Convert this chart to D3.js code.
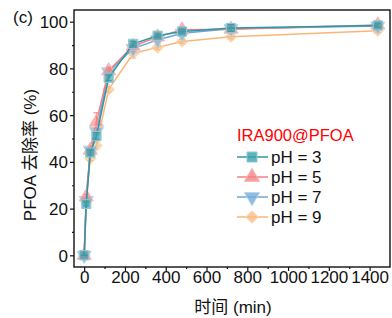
<!DOCTYPE html>
<meta charset="utf-8">
<style>
    body { margin: 0; background: #fff; }
    text { font-family: Arial, "Liberation Sans", sans-serif; fill: #111; }
    .cjk { font-family: "Noto Sans CJK SC", sans-serif; }
</style>
<svg width="392" height="318"></svg>
<script src="https://cdn.jsdelivr.net/npm/d3@7"></script>
<script>
    // sampling times (min)
    var times = [0, 10, 30, 60, 120, 240, 360, 480, 720, 1440];

    // removal (%) per pH
    var ph3 = [0, 22, 44, 51, 76, 90.5, 94, 95.8, 97.3, 98.4];
    var ph5 = [0, 25, 45, 57, 79, 89.5, 93.5, 96.5, 96.8, 98.6];
    var ph7 = [0, 23.5, 45, 53, 78.5, 88.5, 92.2, 95, 97, 98.1];
    var ph9 = [0, 23, 41.5, 47, 71, 86.4, 89, 91.5, 93.6, 96.1];

    // error bars
    var err3 = [0, 0.8, 1, 1.5, 1.2, 1, 0.8, 0.8, 1.5, 0.8];
    var err5 = [0, 1, 1.2, 4, 1.5, 1, 0.8, 0.8, 1, 0.8];
    var err7 = [0, 0.8, 1, 1.5, 1.2, 1, 0.8, 0.8, 2, 0.8];
    var err9 = [0, 0.8, 1, 1.5, 1.2, 2, 1, 0.8, 1, 0.8];

    var names = ["pH = 3", "pH = 5", "pH = 7", "pH = 9"];
    var xTicks = [0, 200, 400, 600, 800, 1000, 1200, 1400];
    var yTicks = [0, 20, 40, 60, 80, 100];

    var series = [
        {name: names[0], values: ph3, err: err3, color: "#2a98a8", fill: "#3aa0ae", stroke: "#8fcbd3", symbol: d3.symbolSquare},
        {name: names[1], values: ph5, err: err5, color: "#f47f7f", fill: "#f58585", stroke: "#f9b7b7", symbol: d3.symbolTriangle},
        {name: names[2], values: ph7, err: err7, color: "#6ba8d8", fill: "#72acd9", stroke: "#b3d3ec", symbol: "down"},
        {name: names[3], values: ph9, err: err9, color: "#f8b678", fill: "#f9bd85", stroke: "#fcd9b5", symbol: d3.symbolDiamond2}
    ];

    var svg = d3.select("svg");
    var pLeft = 74, pRight = 390, pTop = 10, pBottom = 267;

    var x = d3.scaleLinear().domain([-50, 1500]).range([pLeft, pRight]);
    var y = d3.scaleLinear().domain([-5, 105]).range([pBottom, pTop]);

    function symbolPath(sym, size) {
        if (sym === "down") {
            return d3.symbol(d3.symbolTriangle, size)();
        }
        return d3.symbol(sym, size)();
    }

    // axes
    var xAxis = svg.append("g")
            .attr("transform", "translate(0," + pBottom + ")")
            .call(d3.axisBottom(x).tickValues(xTicks).tickSize(4).tickSizeOuter(0).tickFormat(d3.format("d")));
    svg.append("g")
            .attr("transform", "translate(0," + pBottom + ")")
            .call(d3.axisBottom(x).tickValues(d3.range(100, 1500, 200)).tickSize(2).tickFormat(""));
    var yAxis = svg.append("g")
            .attr("transform", "translate(" + pLeft + ",0)")
            .call(d3.axisLeft(y).tickValues(yTicks).tickSize(4).tickSizeOuter(0));
    svg.append("g")
            .attr("transform", "translate(" + pLeft + ",0)")
            .call(d3.axisLeft(y).tickValues(d3.range(10, 101, 20)).tickSize(2).tickFormat(""));

    svg.selectAll(".domain").remove();
    svg.selectAll(".tick line").attr("stroke", "#111").attr("stroke-width", 1.2);
    xAxis.selectAll("text").style("font-size", "17px").attr("y", 3).attr("dy", "0.78em");
    yAxis.selectAll("text").style("font-size", "17px").attr("x", -6).attr("dy", "0.35em");

    // frame
    svg.append("rect")
            .attr("x", pLeft).attr("y", pTop)
            .attr("width", pRight - pLeft).attr("height", pBottom - pTop)
            .attr("fill", "none").attr("stroke", "#111").attr("stroke-width", 1.4);

    var line = d3.line()
            .x(function(d, i) { return x(times[i]); })
            .y(function(d) { return y(d); });

    // draw back to front: pH 9 at the bottom
    var order = [3, 2, 1, 0];
    order.forEach(function(k) {
        var s = series[k];
        var g = svg.append("g");
        g.append("path")
                .attr("d", line(s.values))
                .attr("fill", "none")
                .attr("stroke", s.color)
                .attr("stroke-width", 1.5);
        g.selectAll(".eb")
                .data(s.values)
                .enter().append("path")
                .attr("d", function(d, i) {
                    var cx = x(times[i]), y0 = y(d - s.err[i]), y1 = y(d + s.err[i]);
                    return "M" + (cx - 3) + "," + y0 + "H" + (cx + 3) + "M" + cx + "," + y0 + "V" + y1 + "M" + (cx - 3) + "," + y1 + "H" + (cx + 3);
                })
                .attr("stroke", s.color)
                .attr("stroke-width", 1);
        g.selectAll(".pt")
                .data(s.values)
                .enter().append("path")
                .attr("d", symbolPath(s.symbol, 85))
                .attr("transform", function(d, i) {
                    return "translate(" + x(times[i]) + "," + y(d) + ")" + (s.symbol === "down" ? " rotate(180)" : "");
                })
                .attr("fill", s.fill)
                .attr("fill-opacity", 0.65)
                .attr("stroke", s.stroke)
                .attr("stroke-width", 1);
    });

    // legend
    var lg = svg.append("g");
    lg.append("text")
            .attr("x", 237).attr("y", 141)
            .style("font-size", "16.5px")
            .style("fill", "#ff0000")
            .text("IRA900@PFOA");
    series.forEach(function(s, i) {
        var ry = 157 + i * 20;
        lg.append("line")
                .attr("x1", 237).attr("x2", 268)
                .attr("y1", ry).attr("y2", ry)
                .attr("stroke", s.color).attr("stroke-width", 1.5);
        lg.append("path")
                .attr("d", symbolPath(s.symbol, 100))
                .attr("transform", "translate(252," + ry + ")" + (s.symbol === "down" ? " rotate(180)" : ""))
                .attr("fill", s.fill)
                .attr("fill-opacity", 0.8)
                .attr("stroke", s.stroke)
                .attr("stroke-width", 1);
        lg.append("text")
                .attr("x", 271).attr("y", ry + 6)
                .style("font-size", "17px")
                .text(s.name);
    });

    // labels
    svg.append("text")
            .attr("x", 13).attr("y", 23)
            .style("font-size", "17px")
            .text("(c)");
    svg.append("text")
            .attr("transform", "translate(36,155) rotate(-90)")
            .attr("text-anchor", "middle")
            .style("font-size", "17px")
            .html('PFOA <tspan class="cjk">去除率</tspan> (%)');
    svg.append("text")
            .attr("x", 233).attr("y", 313)
            .attr("text-anchor", "middle")
            .style("font-size", "17px")
            .html('<tspan class="cjk">时间</tspan> (min)');
</script>
